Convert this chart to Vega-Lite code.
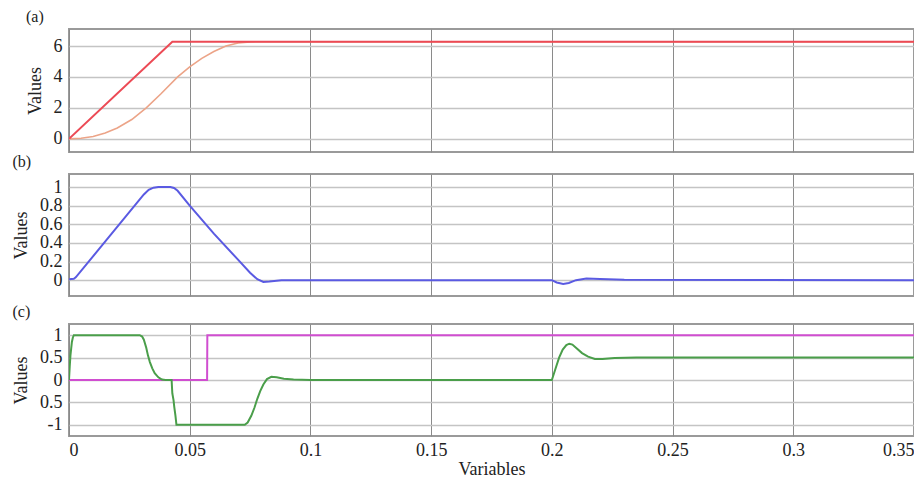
{
  "$schema": "https://vega.github.io/schema/vega-lite/v6.json",
  "padding": {"left": 11, "top": 8, "right": 0, "bottom": 0},
  "background": "white",
  "spacing": 0,
  "config": {
    "font": "Liberation Serif",
    "view": {"stroke": "#9a9a9a", "strokeWidth": 2},
    "axis": {
      "labelFont": "Liberation Serif", "titleFont": "Liberation Serif",
      "labelFontSize": 18, "titleFontSize": 18, "labelColor": "#222", "titleColor": "#222",
      "titleFontWeight": "normal", "domain": false, "ticks": false
    },
    "axisY": {"gridColor": "#c4c4c4", "gridWidth": 1.5, "labelPadding": 7, "titlePadding": 9},
    "axisX": {"gridColor": "#8a8a8a", "gridWidth": 1},
    "title": {"font": "Liberation Serif", "fontSize": 16, "fontWeight": "normal", "anchor": "start", "offset": 4, "color": "#222"}
  },
  "datasets": {
    "a_red": [{"x": 0, "v": 0}, {"x": 0.0428, "v": 6.28}, {"x": 0.35, "v": 6.28}],
    "a_salmon": [
      {"x": 0, "v": 0}, {"x": 0.005, "v": 0.04}, {"x": 0.01, "v": 0.15}, {"x": 0.015, "v": 0.38}, {"x": 0.02, "v": 0.7},
      {"x": 0.026, "v": 1.25}, {"x": 0.032, "v": 2.0}, {"x": 0.038, "v": 2.9}, {"x": 0.045, "v": 4.0}, {"x": 0.05, "v": 4.65},
      {"x": 0.055, "v": 5.2}, {"x": 0.06, "v": 5.65}, {"x": 0.065, "v": 6.0}, {"x": 0.07, "v": 6.2}, {"x": 0.075, "v": 6.27},
      {"x": 0.08, "v": 6.28}, {"x": 0.35, "v": 6.28}
    ],
    "b_blue": [
      {"x": 0, "v": 0.01}, {"x": 0.002, "v": 0.015}, {"x": 0.0028, "v": 0.03}, {"x": 0.031, "v": 0.92}, {"x": 0.033, "v": 0.97},
      {"x": 0.035, "v": 0.993}, {"x": 0.037, "v": 1.0}, {"x": 0.042, "v": 1.0},
      {"x": 0.0435, "v": 0.99}, {"x": 0.045, "v": 0.96}, {"x": 0.05, "v": 0.8}, {"x": 0.06, "v": 0.5}, {"x": 0.07, "v": 0.22},
      {"x": 0.075, "v": 0.08}, {"x": 0.078, "v": 0.01}, {"x": 0.0805, "v": -0.02}, {"x": 0.083, "v": -0.015}, {"x": 0.088, "v": -0.002},
      {"x": 0.095, "v": 0.0}, {"x": 0.2, "v": 0.0}, {"x": 0.202, "v": -0.025}, {"x": 0.2047, "v": -0.04}, {"x": 0.207, "v": -0.03},
      {"x": 0.21, "v": 0.0}, {"x": 0.2143, "v": 0.017}, {"x": 0.22, "v": 0.012}, {"x": 0.23, "v": 0.005}, {"x": 0.35, "v": 0.0}
    ],
    "c_magenta": [{"x": 0, "v": 0}, {"x": 0.0572, "v": 0}, {"x": 0.0573, "v": 1}, {"x": 0.35, "v": 1}],
    "c_green": [
      {"x": 0, "v": 0}, {"x": 0.0003, "v": 0.3}, {"x": 0.0006, "v": 0.55}, {"x": 0.0009, "v": 0.7}, {"x": 0.0012, "v": 0.85},
      {"x": 0.0016, "v": 0.95}, {"x": 0.002, "v": 1.0}, {"x": 0.0293, "v": 1.0}, {"x": 0.0303, "v": 0.97}, {"x": 0.031, "v": 0.9},
      {"x": 0.032, "v": 0.72}, {"x": 0.0327, "v": 0.55}, {"x": 0.0335, "v": 0.4}, {"x": 0.0345, "v": 0.26}, {"x": 0.0355, "v": 0.15},
      {"x": 0.037, "v": 0.06}, {"x": 0.0385, "v": 0.01}, {"x": 0.04, "v": 0.0}, {"x": 0.0425, "v": 0.0}, {"x": 0.0428, "v": -0.3},
      {"x": 0.0433, "v": -0.45}, {"x": 0.0436, "v": -0.6}, {"x": 0.0441, "v": -0.8}, {"x": 0.0445, "v": -1.0}, {"x": 0.0728, "v": -1.0},
      {"x": 0.074, "v": -0.95}, {"x": 0.0755, "v": -0.8}, {"x": 0.0768, "v": -0.62}, {"x": 0.078, "v": -0.42}, {"x": 0.0792, "v": -0.25},
      {"x": 0.0805, "v": -0.1}, {"x": 0.082, "v": 0.02}, {"x": 0.0838, "v": 0.07}, {"x": 0.086, "v": 0.06}, {"x": 0.089, "v": 0.03},
      {"x": 0.093, "v": 0.01}, {"x": 0.1, "v": 0.0}, {"x": 0.2, "v": 0.0}, {"x": 0.2015, "v": 0.25}, {"x": 0.203, "v": 0.5},
      {"x": 0.2045, "v": 0.68}, {"x": 0.206, "v": 0.78}, {"x": 0.2072, "v": 0.81}, {"x": 0.2085, "v": 0.79}, {"x": 0.21, "v": 0.72},
      {"x": 0.2125, "v": 0.6}, {"x": 0.215, "v": 0.52}, {"x": 0.2178, "v": 0.47}, {"x": 0.221, "v": 0.47}, {"x": 0.226, "v": 0.49},
      {"x": 0.235, "v": 0.5}, {"x": 0.35, "v": 0.5}
    ]
  },
  "vconcat": [
    {
      "title": "(a)",
      "width": 845, "height": 123,
      "encoding": {
        "x": {"field": "x", "type": "quantitative", "scale": {"domain": [0, 0.35], "nice": false, "zero": false},
              "axis": {"values": [0, 0.05, 0.1, 0.15, 0.2, 0.25, 0.3, 0.35], "labels": false, "title": null}},
        "y": {"field": "v", "type": "quantitative", "scale": {"domain": [-0.85, 7.1], "nice": false, "zero": false},
              "axis": {"values": [0, 2, 4, 6], "format": "~g", "title": "Values"}}
      },
      "layer": [
        {"data": {"name": "a_salmon"}, "mark": {"type": "line", "color": "#eca488", "strokeWidth": 1.6, "clip": true}},
        {"data": {"name": "a_red"}, "mark": {"type": "line", "color": "#ec4a55", "strokeWidth": 2, "clip": true}}
      ]
    },
    {
      "title": "(b)",
      "width": 845, "height": 122,
      "encoding": {
        "x": {"field": "x", "type": "quantitative", "scale": {"domain": [0, 0.35], "nice": false, "zero": false},
              "axis": {"values": [0, 0.05, 0.1, 0.15, 0.2, 0.25, 0.3, 0.35], "labels": false, "title": null, "ticks": true, "tickSize": 6, "tickOpacity": 0}},
        "y": {"field": "v", "type": "quantitative", "scale": {"domain": [-0.17, 1.14], "nice": false, "zero": false},
              "axis": {"values": [0, 0.2, 0.4, 0.6, 0.8, 1], "format": "~g", "title": "Values"}}
      },
      "layer": [
        {"data": {"name": "b_blue"}, "mark": {"type": "line", "color": "#5a5ae2", "strokeWidth": 2, "clip": true}}
      ]
    },
    {
      "title": "(c)",
      "width": 845, "height": 112,
      "encoding": {
        "x": {"field": "x", "type": "quantitative", "scale": {"domain": [0, 0.35], "nice": false, "zero": false},
              "axis": {"values": [0, 0.05, 0.1, 0.15, 0.2, 0.25, 0.3, 0.35], "format": "~g", "labelFlush": true, "labelPadding": 5, "title": "Variables", "titlePadding": 1}},
        "y": {"field": "v", "type": "quantitative", "scale": {"domain": [-1.25, 1.25], "nice": false, "zero": false},
              "axis": {"values": [-1, -0.5, 0, 0.5, 1], "title": "Values",
                       "labelExpr": "datum.value == -1 ? '-1' : datum.value == -0.5 ? '0.5' : format(datum.value, '~g')"}}
      },
      "layer": [
        {"data": {"name": "c_magenta"}, "mark": {"type": "line", "color": "#d04ed0", "strokeWidth": 2, "clip": true}},
        {"data": {"name": "c_green"}, "mark": {"type": "line", "color": "#4a9e4a", "strokeWidth": 2, "clip": true}}
      ]
    }
  ]
}
